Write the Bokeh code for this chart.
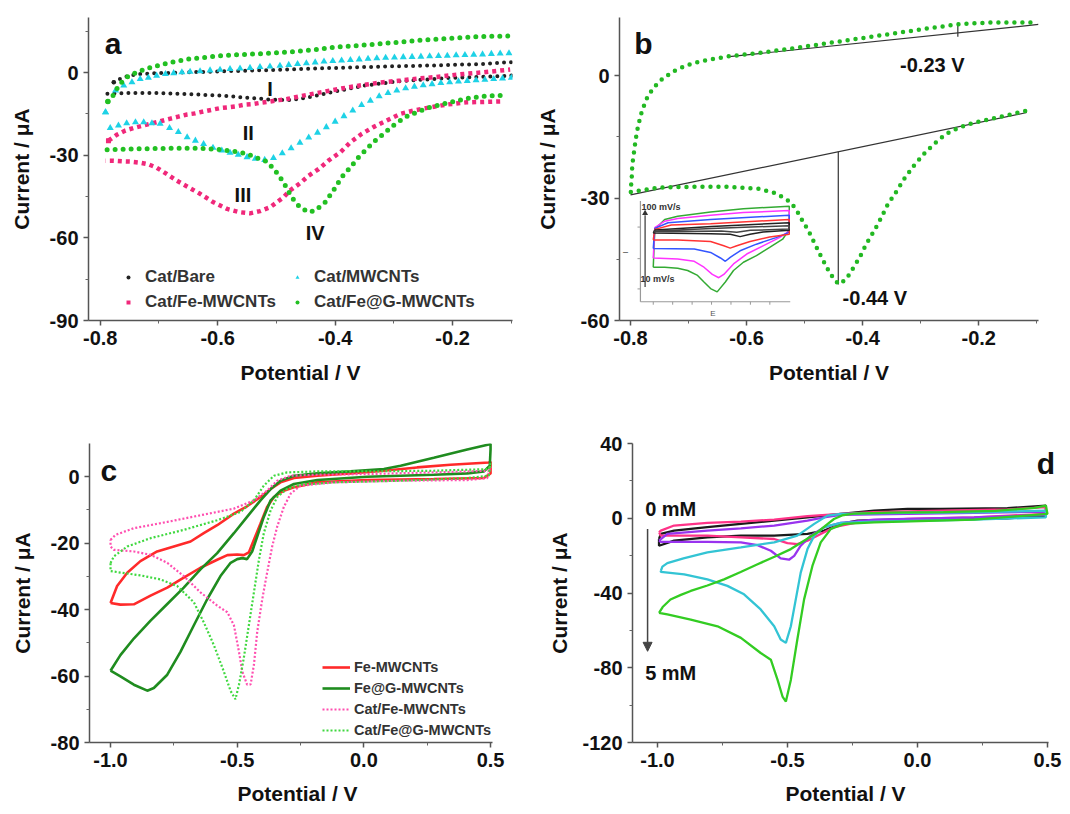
from bokeh.plotting import figure
from bokeh.layouts import column, row
from bokeh.models import (Range1d, FixedTicker, PrintfTickFormatter, Legend, LegendItem,
                          Label, Arrow, NormalHead)
from bokeh.embed import file_html
from bokeh.resources import INLINE

FONT = "Liberation Sans"

# ---------------- Panel a data ----------------
a_bare_up_x = [-0.777,-0.763,-0.749,-0.732,-0.70,-0.65,-0.60,-0.55,-0.50,-0.45,-0.40,-0.35,-0.30,-0.25,-0.20,-0.15,-0.10]
a_bare_up_y = [-3.5,-1.9,-1.1,-0.5,-0.2,0.1,0.4,0.7,1.0,1.4,1.7,2.0,2.3,2.5,2.8,3.1,3.8]
a_bare_dn_x = [-0.10,-0.15,-0.175,-0.20,-0.23,-0.26,-0.29,-0.32,-0.35,-0.37,-0.40,-0.43,-0.46,-0.48,-0.51,-0.55,-0.60,-0.65,-0.70,-0.75,-0.79]
a_bare_dn_y = [-1.1,-1.5,-1.7,-1.9,-2.3,-2.7,-3.1,-3.9,-4.7,-5.6,-6.8,-8.3,-9.5,-10.0,-9.8,-9.1,-8.3,-7.8,-7.4,-7.4,-7.7]

a_fe_dn_x = [-0.119,-0.176,-0.21,-0.238,-0.267,-0.289,-0.312,-0.335,-0.355,-0.374,
             -0.391,-0.411,-0.428,-0.445,-0.46,-0.477,-0.488,-0.511,-0.528,-0.545,
             -0.562,-0.584,-0.607,-0.63,-0.65,-0.67,-0.689,-0.704,-0.718,-0.732,
             -0.749,-0.763,-0.777,-0.791]
a_fe_dn_y = [-10.5,-10.8,-11.6,-12.6,-13.8,-15.0,-17.4,-19.8,-22.3,-25.3,
             -28.9,-31.9,-35.0,-37.4,-40.2,-42.8,-45.3,-48.9,-50.3,-51.1,
             -50.7,-49.5,-47.1,-44.0,-41.6,-39.2,-36.5,-34.5,-33.3,-32.7,
             -32.3,-32.2,-32.0,-32.0]
a_fe_up_x = [-0.786,-0.772,-0.757,-0.743,-0.726,-0.712,-0.698,-0.682,-0.667,-0.652,
             -0.638,-0.624,-0.61,-0.596,-0.582,-0.567,-0.553,-0.539,-0.525,-0.511,
             -0.496,-0.482,-0.46,-0.431,-0.403,-0.374,-0.346,-0.318,-0.289,-0.261,
             -0.233,-0.204,-0.176,-0.148,-0.102]
a_fe_up_y = [-24.7,-22.6,-21.0,-20.1,-19.2,-18.4,-17.7,-16.8,-16.0,-15.2,
             -14.8,-14.1,-13.5,-12.9,-12.6,-12.2,-11.6,-11.4,-10.9,-10.5,
             -10.0,-9.6,-8.6,-7.4,-6.3,-5.2,-4.3,-3.5,-2.9,-2.2,
             -1.7,-1.0,-0.4,0.1,1.1]

a_mw_dn_x = [-0.100,-0.115,-0.130,-0.145,-0.160,-0.175,-0.190,-0.205,-0.220,-0.235,
             -0.250,-0.265,-0.280,-0.295,-0.310,-0.325,-0.340,-0.355,-0.370,-0.385,
             -0.400,-0.415,-0.430,-0.445,-0.460,-0.475,-0.490,-0.505,-0.520,-0.536,
             -0.550,-0.565,-0.579,-0.593,-0.608,-0.624,-0.638,-0.652,-0.667,-0.682,
             -0.698,-0.712,-0.726,-0.740,-0.755,-0.769,-0.783]
a_mw_dn_y = [-1.9,-2.1,-2.3,-2.6,-2.8,-3.0,-3.2,-3.5,-3.8,-4.2,
             -4.6,-5.1,-5.7,-6.5,-7.4,-8.6,-10.2,-11.8,-13.8,-15.8,
             -17.8,-19.8,-21.8,-23.6,-25.5,-27.5,-29.3,-31.0,-31.7,-31.3,
             -30.7,-29.8,-29.1,-28.3,-27.3,-25.9,-24.7,-23.5,-21.6,-20.1,
             -18.6,-18.4,-18.0,-18.0,-18.4,-19.2,-20.1]
a_mw_up_x = [-0.791,-0.774,-0.760,-0.746,-0.732,-0.718,-0.704,-0.689,-0.675,-0.661,
             -0.647,-0.630,-0.613,-0.596,-0.579,-0.562,-0.545,-0.528,-0.511,-0.494,
             -0.479,-0.464,-0.449,-0.434,-0.419,-0.404,-0.389,-0.374,-0.359,-0.344,
             -0.329,-0.314,-0.299,-0.284,-0.269,-0.254,-0.239,-0.224,-0.209,-0.194,
             -0.179,-0.164,-0.149,-0.134,-0.119,-0.104]
a_mw_up_y = [-14.4,-6.5,-4.7,-3.5,-2.3,-1.9,-1.1,-0.5,-0.2,0.1,
             0.3,0.5,0.8,1.0,1.3,1.5,1.7,2.0,2.2,2.5,
             2.8,3.1,3.4,3.7,4.0,4.2,4.4,4.6,4.8,5.0,
             5.2,5.4,5.5,5.6,5.7,5.8,5.9,6.0,6.1,6.3,
             6.4,6.5,6.6,6.8,6.9,7.0]

a_g_dn_x = [-0.119,-0.148,-0.170,-0.193,-0.216,-0.238,-0.261,-0.281,-0.301,-0.318,
            -0.335,-0.360,-0.374,-0.389,-0.403,-0.417,-0.434,-0.445,-0.460,-0.474,
            -0.488,-0.502,-0.516,-0.533,-0.550,-0.573,-0.601,-0.630,-0.687,-0.743,
            -0.800]
a_g_dn_y = [-8.3,-8.6,-9.2,-10.2,-11.4,-12.6,-14.4,-16.2,-19.2,-22.3,
            -25.3,-30.7,-34.4,-38.0,-42.8,-47.1,-50.1,-50.7,-48.9,-45.3,
            -39.8,-35.6,-32.3,-31.0,-29.5,-28.6,-27.8,-27.5,-27.5,-27.7,
            -28.1]
a_g_up_x = [-0.787,-0.775,-0.769,-0.755,-0.738,-0.723,-0.703,-0.681,-0.647,-0.59,
            -0.533,-0.482,-0.43,-0.40,-0.35,-0.30,-0.25,-0.20,-0.15,-0.10]
a_g_up_y = [-10.5,-7.5,-4.7,-1.7,0.1,1.3,2.5,3.7,5.0,6.2,
            6.8,7.4,8.4,9.2,10.0,10.9,11.8,12.5,13.1,13.3]

a_roman = ["I", "II", "III", "IV"]
a_roman_x = [-0.511, -0.548, -0.557, -0.434]
a_roman_y = [-5.8, -22.1, -44.6, -58.4]

# ---------------- Panel b data ----------------
b_dn_x = [-0.120,-0.152,-0.180,-0.209,-0.234,-0.257,-0.277,-0.294,-0.311,-0.328,
          -0.342,-0.357,-0.368,-0.379,-0.394,-0.405,-0.417,-0.428,-0.440,-0.448,
          -0.459,-0.471,-0.482,-0.493,-0.505,-0.516,-0.530,-0.550,-0.579,-0.636,
          -0.693,-0.750,-0.800]
b_dn_y = [-8.6,-9.7,-10.6,-11.5,-12.7,-14.3,-16.7,-19.1,-21.9,-25.2,
          -28.4,-31.6,-34.8,-37.7,-41.3,-44.5,-47.3,-49.8,-51.1,-50.2,
          -47.7,-44.5,-41.3,-38.1,-35.2,-32.4,-30.4,-28.8,-27.7,-27.2,
          -27.2,-27.4,-28.5]
b_up_x = [-0.800,-0.798,-0.797,-0.794,-0.791,-0.787,-0.781,-0.773,-0.761,-0.744,
          -0.721,-0.693,-0.664,-0.630,-0.579,-0.522,-0.465,-0.408,-0.351,-0.294,
          -0.237,-0.180,-0.100]
b_up_y = [-28.4,-25.2,-21.9,-18.7,-15.5,-12.3,-9.0,-5.8,-3.0,-0.6,
          1.5,3.1,4.0,4.8,5.6,6.7,7.9,9.1,10.3,11.5,
          12.6,13.1,13.1]
b_base_up_x = [-0.63, -0.097]
b_base_up_y = [4.7, 12.6]
b_base_lo_x = [-0.80, -0.117]
b_base_lo_y = [-29.2, -9.0]
b_peak_c_x = [-0.442, -0.442]
b_peak_c_y = [-51.2, -18.6]
b_peak_a_x = [-0.236, -0.236]
b_peak_a_y = [9.6, 13.0]

# inset (scan-rate CVs), E in V, I in arbitrary units
ins_colors = ["#33aa33", "#ff33ff", "#3355ff", "#ff3333", "#222222", "#444444"]
ins_E = [
    [-0.8,-0.792,-0.741,-0.674,-0.505,-0.336,-0.1,-0.1,-0.134,-0.201,-0.269,-0.336,-0.387,-0.429,-0.471,-0.505,-0.539,-0.572,-0.623,-0.674,-0.741,-0.8],
    [-0.8,-0.792,-0.741,-0.674,-0.505,-0.336,-0.1,-0.1,-0.151,-0.235,-0.319,-0.387,-0.437,-0.463,-0.496,-0.539,-0.589,-0.674,-0.8],
    [-0.8,-0.792,-0.724,-0.505,-0.1,-0.1,-0.168,-0.269,-0.353,-0.404,-0.429,-0.454,-0.505,-0.589,-0.8],
    [-0.8,-0.792,-0.707,-0.505,-0.1,-0.1,-0.201,-0.302,-0.37,-0.404,-0.437,-0.505,-0.674,-0.8],
    [-0.8,-0.79,-0.5,-0.1,-0.1,-0.235,-0.302,-0.353,-0.404,-0.505,-0.8],
    [-0.8,-0.79,-0.5,-0.1,-0.1,-0.3,-0.37,-0.45,-0.8],
]
ins_I = [
    [-55,2.5,17.5,22.5,29,34,37.5,2.5,-12.5,-25,-37.5,-47.5,-60,-77.5,-92.5,-87.5,-77.5,-67.5,-60,-56.5,-55,-55],
    [-41,5,15,19,24,28,31,0,-10,-22.5,-35,-50,-66,-71,-66,-55,-46,-42.5,-41],
    [-26.5,4,12.5,17.5,24,-2,-10,-20,-30,-40,-46,-41,-32.5,-27.5,-26.5],
    [-13.5,2.5,9,11,17.5,-5,-9,-16,-22.5,-26,-22.5,-16,-13.5,-13.5],
    [-3,1.5,7,12.5,1,-1.5,-5,-8.5,-5,-4,-3],
    [-1,0,4,8,3,1,-2,0,-1],
]
ins_xtick_E = [-0.8,-0.7,-0.6,-0.5,-0.4,-0.3,-0.2]
ins_ytick_I = [6, -42, -88]

# ---------------- Panel c data ----------------
c_fe_fwd_x = [-1.0,-0.974,-0.934,-0.882,-0.816,-0.75,-0.684,-0.632,-0.579,-0.513,-0.461,-0.408,-0.368,-0.329,-0.276,-0.184,-0.053,0.079,0.21,0.342,0.493,0.5]
c_fe_fwd_y = [-38.0,-32.9,-28.9,-25.4,-22.5,-21.0,-19.5,-17.0,-14.6,-11.1,-8.9,-6.1,-3.7,-1.7,-0.4,0.3,1.0,1.8,2.8,3.6,4.3,4.5]
c_fe_rev_x = [0.5,0.474,0.276,0.013,-0.184,-0.276,-0.316,-0.355,-0.382,-0.408,-0.434,-0.454,-0.474,-0.5,-0.539,-0.579,-0.645,-0.711,-0.776,-0.842,-0.908,-0.961,-1.0]
c_fe_rev_y = [1.0,-0.4,-0.7,-1.0,-1.7,-3.2,-4.2,-6.1,-9.1,-14.1,-19.0,-22.8,-23.6,-23.4,-23.6,-25.0,-27.4,-30.4,-33.4,-35.8,-38.4,-38.5,-38.0]

c_g_fwd_x = [-1.0,-0.961,-0.908,-0.842,-0.776,-0.711,-0.645,-0.579,-0.513,-0.461,-0.408,-0.368,-0.329,-0.276,-0.184,-0.053,0.079,0.145,0.276,0.408,0.493,0.5]
c_g_fwd_y = [-58.4,-53.7,-48.7,-43.3,-38.3,-33.4,-27.9,-23.0,-17.0,-12.1,-7.1,-3.7,-1.2,0.3,1.0,1.6,2.3,3.3,5.7,8.2,9.7,9.9]
c_g_rev_x = [0.5,0.497,0.474,0.408,0.276,0.013,-0.184,-0.276,-0.329,-0.368,-0.395,-0.421,-0.441,-0.461,-0.48,-0.5,-0.526,-0.566,-0.618,-0.671,-0.724,-0.776,-0.829,-0.855,-0.908,-0.961,-1.0]
c_g_rev_y = [8.2,3.3,1.6,1.0,0.6,0.0,-1.0,-2.2,-4.2,-7.1,-12.1,-18.0,-22.5,-24.8,-24.5,-24.8,-25.9,-29.9,-36.8,-44.7,-52.7,-59.6,-63.6,-64.4,-62.6,-60.1,-58.4]

c_cfe_fwd_x = [-1.0,-0.98,-0.908,-0.776,-0.645,-0.513,-0.434,-0.382,-0.342,-0.289,-0.184,0.013,0.276,0.493,0.5]
c_cfe_fwd_y = [-19.0,-17.5,-15.5,-13.6,-11.6,-9.6,-7.1,-4.2,-1.2,0.3,0.6,0.8,1.3,1.8,3.0]
c_cfe_rev_x = [0.5,0.487,0.408,0.145,-0.118,-0.25,-0.289,-0.316,-0.342,-0.362,-0.382,-0.401,-0.421,-0.434,-0.447,-0.461,-0.48,-0.493,-0.513,-0.539,-0.579,-0.645,-0.711,-0.776,-0.842,-0.908,-0.987,-1.0,-1.0]
c_cfe_rev_y = [3.0,-0.4,-1.0,-1.2,-1.7,-2.7,-5.1,-9.1,-15.0,-21.0,-28.9,-36.8,-46.7,-56.6,-62.5,-62.6,-58.6,-52.7,-44.7,-40.8,-38.8,-34.8,-29.9,-25.9,-23.5,-22.5,-22.0,-21.0,-19.0]

c_cg_fwd_x = [-1.0,-0.987,-0.934,-0.842,-0.711,-0.579,-0.487,-0.434,-0.395,-0.355,-0.303,-0.184,0.013,0.276,0.493,0.5]
c_cg_fwd_y = [-26.0,-24.0,-21.0,-18.5,-16.0,-13.1,-10.6,-7.1,-2.7,0.3,1.3,1.6,1.6,1.8,2.3,4.0]
c_cg_rev_x = [0.5,0.493,0.408,0.145,-0.118,-0.25,-0.303,-0.342,-0.368,-0.395,-0.414,-0.434,-0.454,-0.474,-0.493,-0.507,-0.526,-0.553,-0.592,-0.632,-0.671,-0.737,-0.803,-0.882,-0.974,-1.0,-1.0]
c_cg_rev_y = [4.0,0.3,-0.4,-1.2,-1.7,-2.4,-3.7,-6.1,-10.1,-17.0,-24.9,-34.8,-44.7,-54.6,-62.6,-67.0,-64.5,-58.6,-50.7,-43.8,-37.8,-32.9,-30.9,-29.7,-28.7,-28.4,-26.0]

c_labels = ["Fe-MWCNTs", "Fe@G-MWCNTs", "Cat/Fe-MWCNTs", "Cat/Fe@G-MWCNTs"]

# ---------------- Panel d data ----------------
d_k_fwd_x = [-0.994,-0.987,-0.936,-0.808,-0.679,-0.551,-0.423,-0.295,-0.167,-0.038,0.09,0.346,0.494]
d_k_fwd_y = [-11.1,-8.4,-6.6,-4.8,-3.0,-1.3,0.5,2.3,4.1,5.0,5.0,5.4,6.8]
d_k_rev_x = [0.494,0.346,0.09,-0.103,-0.231,-0.295,-0.359,-0.423,-0.551,-0.679,-0.808,-0.936,-0.994,-0.994]
d_k_rev_y = [1.4,0.0,-0.4,-0.7,-1.3,-3.0,-6.6,-8.4,-9.3,-9.3,-10.2,-12.0,-14.7,-11.1]

d_p_fwd_x = [-0.994,-0.987,-0.936,-0.808,-0.679,-0.551,-0.423,-0.295,-0.167,0.09,0.346,0.494]
d_p_fwd_y = [-7.5,-6.6,-3.9,-2.5,-1.8,-0.7,1.1,2.3,3.2,4.1,4.7,5.9]
d_p_rev_x = [0.494,0.218,-0.038,-0.231,-0.321,-0.372,-0.423,-0.462,-0.5,-0.551,-0.679,-0.808,-0.936,-0.987,-0.994]
d_p_rev_y = [2.3,0.5,-0.4,-2.2,-4.8,-8.4,-12.0,-13.8,-13.3,-11.1,-10.2,-9.3,-9.3,-9.3,-7.5]

d_v_fwd_x = [-0.994,-0.962,-0.808,-0.679,-0.551,-0.423,-0.359,-0.295,-0.038,0.218,0.494]
d_v_fwd_y = [-12.0,-8.4,-6.6,-5.4,-3.9,-1.3,0.5,1.8,2.3,2.9,3.6]
d_v_rev_x = [0.494,0.218,-0.167,-0.295,-0.359,-0.41,-0.449,-0.474,-0.494,-0.526,-0.564,-0.615,-0.679,-0.808,-0.936,-0.987,-0.994]
d_v_rev_y = [1.8,0.5,-0.7,-2.5,-4.8,-9.3,-14.7,-20.1,-22.2,-21.5,-17.4,-14.4,-12.9,-12.6,-12.6,-12.6,-12.0]

d_c_fwd_x = [-0.987,-0.981,-0.962,-0.90,-0.808,-0.679,-0.551,-0.462,-0.397,-0.346,-0.295,-0.038,0.218,0.494]
d_c_fwd_y = [-28.2,-25.9,-24.0,-21.5,-18.3,-15.6,-12.9,-9.3,-3.0,1.4,2.3,2.9,3.2,4.1]
d_c_rev_x = [0.494,0.218,-0.167,-0.295,-0.359,-0.397,-0.423,-0.449,-0.468,-0.487,-0.506,-0.526,-0.551,-0.603,-0.667,-0.731,-0.808,-0.897,-0.987,-0.987]
d_c_rev_y = [0.5,-0.7,-1.8,-2.5,-4.8,-9.3,-16.5,-29.1,-43.4,-57.8,-66.7,-64.9,-57.8,-48.8,-40.7,-36.2,-32.7,-30.0,-28.7,-28.2]

d_g_fwd_x = [-0.994,-0.98,-0.95,-0.91,-0.872,-0.808,-0.744,-0.68,-0.615,-0.55,-0.487,-0.43,-0.385,-0.35,-0.321,-0.29,-0.244,-0.1,0.1,0.3,0.45,0.494]
d_g_fwd_y = [-50.6,-47.5,-43.5,-41.0,-38.9,-36.0,-32.7,-28.8,-24.6,-20.6,-16.5,-11.5,-7.5,-3.5,-0.4,1.5,2.5,3.0,3.3,4.0,5.5,6.8]
d_g_rev_x = [0.5,0.218,-0.167,-0.282,-0.333,-0.372,-0.404,-0.436,-0.462,-0.487,-0.506,-0.519,-0.538,-0.564,-0.603,-0.679,-0.769,-0.872,-0.962,-0.994]
d_g_rev_y = [2.3,-0.7,-2.2,-3.0,-5.7,-12.9,-25.5,-43.4,-64.9,-86.5,-98.1,-95.4,-86.5,-75.7,-72.1,-64.0,-57.8,-54.2,-51.5,-50.6]


def style(p, xt, xm, yt, ym, xfmt, yfmt, xlab_standoff=13, ylab_standoff=14, xbounds=None):
    p.outline_line_color = None
    p.xgrid.visible = False
    p.ygrid.visible = False
    p.xaxis.ticker = FixedTicker(ticks=xt, minor_ticks=xm)
    p.yaxis.ticker = FixedTicker(ticks=yt, minor_ticks=ym)
    p.xaxis.formatter = PrintfTickFormatter(format=xfmt)
    p.yaxis.formatter = PrintfTickFormatter(format=yfmt)
    p.xaxis.axis_label = "Potential / V"
    p.yaxis.axis_label = "Current / \u03bcA"
    if xbounds is not None:
        p.xaxis.bounds = xbounds
    for ax in p.axis:
        ax.axis_line_color = "#555555"
        ax.axis_line_width = 1.5
        ax.major_tick_line_color = "#555555"
        ax.major_tick_line_width = 1.5
        ax.minor_tick_line_color = "#666666"
        ax.minor_tick_line_width = 1
        ax.major_tick_out = 5
        ax.major_tick_in = 0
        ax.minor_tick_out = 3
        ax.minor_tick_in = 0
        ax.major_label_text_font = FONT
        ax.major_label_text_font_style = "bold"
        ax.major_label_text_font_size = "20px"
        ax.major_label_text_color = "#111111"
        ax.major_label_standoff = 5
        ax.axis_label_text_font = FONT
        ax.axis_label_text_font_style = "bold"
        ax.axis_label_text_font_size = "21px"
        ax.axis_label_text_color = "#111111"
    p.xaxis.axis_label_standoff = xlab_standoff
    p.yaxis.axis_label_standoff = ylab_standoff


def label(p, x, y, text, size="30px", **kw):
    p.add_layout(Label(x=x, y=y, text=text, text_font=FONT, text_font_style="bold",
                       text_font_size=size, text_color="#111111", text_align="center",
                       text_baseline="middle", **kw))


def dots(p, x, y, color, width, dash, cap="round"):
    return p.line(x, y, line_color=color, line_width=width, line_dash=dash, line_cap=cap)


def legend_style(lg, size, gw, gh, standoff):
    lg.border_line_color = None
    lg.background_fill_alpha = 0
    lg.label_text_font = FONT
    lg.label_text_font_style = "bold"
    lg.label_text_font_size = size
    lg.label_text_color = "#333333"
    lg.glyph_width = gw
    lg.glyph_height = gh
    lg.label_height = gh
    lg.label_standoff = standoff
    lg.spacing = 1
    lg.padding = 0
    lg.margin = 0


# ================= Panel a =================
pa = figure(width=532, height=398, x_range=Range1d(-0.82, -0.098), y_range=Range1d(-90, 20),
            output_backend="svg", toolbar_location=None,
            min_border_left=88, min_border_right=20, min_border_top=17, min_border_bottom=78)
style(pa, [-0.8, -0.6, -0.4, -0.2], [-0.7, -0.5, -0.3, -0.1],
      [-90, -60, -30, 0], [-75, -45, -15, 15], "%.1f", "%d")

C_BK, C_PK, C_CY, C_GR = "#222222", "#f0287a", "#1ed2e6", "#22c022"
dots(pa, a_bare_up_x, a_bare_up_y, C_BK, 4, "0 7")
dots(pa, a_bare_dn_x, a_bare_dn_y, C_BK, 4, "0 7")
dots(pa, a_fe_dn_x, a_fe_dn_y, C_PK, 4.5, "4 4", "butt")
dots(pa, a_fe_up_x, a_fe_up_y, C_PK, 4.5, "4 4", "butt")
pa.scatter(a_mw_dn_x, a_mw_dn_y, marker="triangle", size=7, fill_color=C_CY, line_color=None)
pa.scatter(a_mw_up_x, a_mw_up_y, marker="triangle", size=7, fill_color=C_CY, line_color=None)
dots(pa, a_g_dn_x, a_g_dn_y, C_GR, 5, "0 8")
dots(pa, a_g_up_x, a_g_up_y, C_GR, 5, "0 8")

lg_bk = pa.scatter([a_bare_up_x[0]], [a_bare_up_y[0]], marker="circle", size=4.5, fill_color=C_BK, line_color=None)
lg_pk = pa.scatter([a_fe_up_x[0]], [a_fe_up_y[0]], marker="square", size=5, fill_color=C_PK, line_color=None)
lg_cy = pa.scatter([a_mw_up_x[0]], [a_mw_up_y[0]], marker="triangle", size=7, fill_color=C_CY, line_color=None)
lg_gr = pa.scatter([a_g_up_x[0]], [a_g_up_y[0]], marker="circle", size=5.5, fill_color=C_GR, line_color=None)

leg1 = Legend(items=[LegendItem(label="Cat/Bare", renderers=[lg_bk]),
                     LegendItem(label="Cat/Fe-MWCNTs", renderers=[lg_pk])], location=(35, 6))
leg2 = Legend(items=[LegendItem(label="Cat/MWCNTs", renderers=[lg_cy]),
                     LegendItem(label="Cat/Fe@G-MWCNTs", renderers=[lg_gr])], location=(204, 6))
for lg in (leg1, leg2):
    legend_style(lg, "17px", 10, 24, 12)
    pa.add_layout(lg)

for t, x, y in zip(a_roman, a_roman_x, a_roman_y):
    label(pa, x, y, t, size="20px")
label(pa, -0.778, 10.5, "a")

# ================= Panel b =================
pb = figure(width=530, height=398, x_range=Range1d(-0.819, -0.097), y_range=Range1d(-60, 14.3),
            output_backend="svg", toolbar_location=None,
            min_border_left=84, min_border_right=24, min_border_top=17, min_border_bottom=74)
style(pb, [-0.8, -0.6, -0.4, -0.2], [-0.7, -0.5, -0.3, -0.1],
      [-60, -30, 0], [-45, -15], "%.1f", "%d", ylab_standoff=19)

pb.extra_x_ranges = {"ix": Range1d(-0.9737, 1.1826)}
pb.extra_y_ranges = {"iy": Range1d(-136.0, 324.5)}

for bx, by in ((b_base_up_x, b_base_up_y), (b_base_lo_x, b_base_lo_y),
               (b_peak_c_x, b_peak_c_y), (b_peak_a_x, b_peak_a_y)):
    pb.line(bx, by, line_color="#333333", line_width=1.2)

dots(pb, b_dn_x + b_up_x, b_dn_y + b_up_y, "#22b822", 4.5, "0 8")

# inset
for E, I, col in zip(ins_E, ins_I, ins_colors):
    pb.line(E, I, line_color=col, line_width=1.5, x_range_name="ix", y_range_name="iy")
pb.line([-0.866, -0.095], [-107.5, -107.5], line_color="#999999", line_width=1.2,
        x_range_name="ix", y_range_name="iy")
pb.line([-0.866, -0.866], [-107.5, 45.5], line_color="#999999", line_width=1.2,
        x_range_name="ix", y_range_name="iy")
pb.segment(x0=ins_xtick_E, y0=[-107.5] * len(ins_xtick_E), x1=ins_xtick_E,
           y1=[-112.0] * len(ins_xtick_E), line_color="#999999", line_width=1,
           x_range_name="ix", y_range_name="iy")
pb.segment(x0=[-0.866] * len(ins_ytick_I), y0=ins_ytick_I, x1=[-0.881] * len(ins_ytick_I),
           y1=ins_ytick_I, line_color="#999999", line_width=1,
           x_range_name="ix", y_range_name="iy")
pb.line([-0.842, -0.842], [-85, 24], line_color="#333333", line_width=1.2,
        x_range_name="ix", y_range_name="iy")
pb.scatter([-0.842], [27], marker="triangle", size=6, fill_color="#333333", line_color=None,
           x_range_name="ix", y_range_name="iy")
for t, x, y in (("100 mV/s", -0.861, 36), ("10 mV/s", -0.866, -72.5)):
    pb.add_layout(Label(x=x, y=y, text=t, x_range_name="ix", y_range_name="iy",
                        text_font=FONT, text_font_style="bold", text_font_size="9px",
                        text_color="#333333", text_align="left", text_baseline="middle"))
pb.add_layout(Label(x=-0.943, y=-32.5, text="I", angle=1.5708, x_range_name="ix", y_range_name="iy",
                    text_font=FONT, text_font_size="8px", text_color="#555555",
                    text_align="center", text_baseline="middle"))
pb.add_layout(Label(x=-0.493, y=-125.5, text="E", x_range_name="ix", y_range_name="iy",
                    text_font=FONT, text_font_size="8px", text_color="#555555",
                    text_align="center", text_baseline="middle"))

label(pb, -0.778, 7.9, "b")
label(pb, -0.280, 2.7, "-0.23 V", size="20px")
label(pb, -0.379, -54.6, "-0.44 V", size="20px")

# ================= Panel c =================
pc = figure(width=532, height=416, x_range=Range1d(-1.083, 0.559), y_range=Range1d(-80, 10),
            output_backend="svg", toolbar_location=None,
            min_border_left=89, min_border_right=27, min_border_top=45, min_border_bottom=71)
style(pc, [-1.0, -0.5, 0.0, 0.5], [-0.75, -0.25, 0.25],
      [-80, -60, -40, -20, 0], [-70, -50, -30, -10], "%.1f", "%d", xlab_standoff=12,
      xbounds=(-1.083, 0.508))

r1 = pc.line(c_fe_fwd_x + c_fe_rev_x, c_fe_fwd_y + c_fe_rev_y, line_color="#ff2a2a", line_width=2.6)
r2 = pc.line(c_g_fwd_x + c_g_rev_x, c_g_fwd_y + c_g_rev_y, line_color="#1f8c1f", line_width=2.6)
r3 = pc.line(c_cfe_fwd_x + c_cfe_rev_x, c_cfe_fwd_y + c_cfe_rev_y, line_color="#ff4fb0",
             line_width=2.2, line_dash="2 2")
r4 = pc.line(c_cg_fwd_x + c_cg_rev_x, c_cg_fwd_y + c_cg_rev_y, line_color="#3fd83f",
             line_width=2.2, line_dash="2 2")
legc = Legend(items=[LegendItem(label=l, renderers=[r]) for l, r in zip(c_labels, [r1, r2, r3, r4])],
              location=(233, 2))
legend_style(legc, "14.5px", 28, 20, 4)
pc.add_layout(legc)
label(pc, -1.007, 1.8, "c")

# ================= Panel d =================
pd_ = figure(width=530, height=416, x_range=Range1d(-1.096, 0.5425), y_range=Range1d(-120, 40),
             output_backend="svg", toolbar_location=None,
             min_border_left=100, min_border_right=4, min_border_top=45, min_border_bottom=72)
style(pd_, [-1.0, -0.5, 0.0, 0.5], [-0.75, -0.25, 0.25],
      [-120, -80, -40, 0, 40], [-100, -60, -20, 20], "%.1f", "%d", xlab_standoff=12,
      ylab_standoff=8, xbounds=(-1.096, 0.504))

for fx, fy, rx, ry, col in (
        (d_k_fwd_x, d_k_fwd_y, d_k_rev_x, d_k_rev_y, "#1a1a1a"),
        (d_p_fwd_x, d_p_fwd_y, d_p_rev_x, d_p_rev_y, "#ff3388"),
        (d_v_fwd_x, d_v_fwd_y, d_v_rev_x, d_v_rev_y, "#9933ee"),
        (d_c_fwd_x, d_c_fwd_y, d_c_rev_x, d_c_rev_y, "#33c4d4"),
        (d_g_fwd_x, d_g_fwd_y, d_g_rev_x, d_g_rev_y, "#33cc22")):
    pd_.line(fx + rx, fy + ry, line_color=col, line_width=2.3)

pd_.add_layout(Arrow(end=NormalHead(size=9, fill_color="#444444", line_color="#444444"),
                     x_start=-1.038, y_start=-5.7, x_end=-1.038, y_end=-71.2,
                     line_color="#444444", line_width=1.5))
label(pd_, -0.949, 5.0, "0 mM", size="20px")
label(pd_, -0.949, -82.9, "5 mM", size="20px")
label(pd_, 0.494, 29.2, "d")

layout = column(row(pa, pb), row(pc, pd_))
open("out.html", "w").write(file_html(layout, INLINE))
